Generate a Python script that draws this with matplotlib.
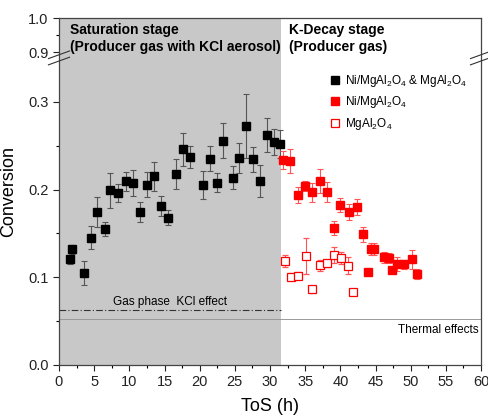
import numpy as np
import matplotlib
matplotlib.use('Agg')
import matplotlib.pyplot as plt
from matplotlib.lines import Line2D

plt.rcParams['font.family'] = ['Liberation Sans', 'DejaVu Sans']
plt.rcParams['mathtext.default'] = 'regular'

##################################################
# Data
##################################################
# Ni/MgAl2O4 & MgAl2O4 (saturation stage)
tos_both = [1.56, 1.85, 3.55, 4.55, 5.4, 6.6, 7.3, 8.43, 9.47, 10.47, 11.47, 12.47,
            13.55, 14.5, 15.55, 16.6, 17.6, 18.6, 20.5, 21.47, 22.4, 23.3, 24.8,
            25.6, 26.6, 27.6, 28.6, 29.6, 30.57, 31.47]
conv_both = [0.1205, 0.132, 0.105, 0.145, 0.1745, 0.155, 0.199, 0.196, 0.2095, 0.2075,
             0.1745, 0.2056, 0.215, 0.1817, 0.168, 0.2174, 0.246, 0.2368, 0.2056,
             0.2353, 0.2079, 0.2558, 0.2136, 0.236, 0.2725, 0.2345, 0.21, 0.262,
             0.254, 0.2516]
err_both = [0.005, 0.005, 0.014, 0.013, 0.017, 0.0076, 0.0195, 0.01, 0.011, 0.015,
            0.0116, 0.0146, 0.0165, 0.0114, 0.0085, 0.017, 0.019, 0.0127, 0.016,
            0.0144, 0.011, 0.02, 0.0135, 0.017, 0.036, 0.014, 0.018, 0.0196,
            0.0146, 0.016]

# Ni/MgAl2O4 (K-decay stage)
tos_ni = [31.9, 32.9, 34.0, 35.0, 36.0, 37.06, 38.05, 40.0, 41.3, 42.3, 39.1, 43.2,
          44.3, 44.75, 44.0, 46.2, 46.9, 47.35, 48.1, 49.1, 50.15, 50.95]
conv_ni = [0.2338, 0.2326, 0.1938, 0.2045, 0.197, 0.21, 0.197, 0.1828, 0.1745, 0.18,
           0.1566, 0.149, 0.1323, 0.1326, 0.1057, 0.1228, 0.122, 0.1083, 0.1148,
           0.115, 0.1205, 0.104]
err_ni = [0.01, 0.014, 0.0095, 0.0057, 0.011, 0.0135, 0.0114, 0.008, 0.009, 0.009,
          0.008, 0.0085, 0.007, 0.007, 0.003, 0.006, 0.006, 0.003, 0.008, 0.005,
          0.0107, 0.006]

# MgAl2O4 (K-decay stage)
tos_mg = [32.1, 33.0, 34.0, 35.08, 36.0, 37.1, 38.06, 39.1, 40.05, 41.05, 41.75]
conv_mg = [0.1186, 0.1007, 0.1018, 0.1243, 0.0863, 0.1137, 0.116, 0.1254, 0.1216,
           0.1132, 0.0829]
err_mg = [0.0065, 0.004, 0.004, 0.02, 0.004, 0.006, 0.004, 0.0095, 0.0067, 0.0097,
          0.003]

stage_end = 31.6
kcl_level = 0.0627
thermal_level = 0.0525

##################################################
# Broken y axis (0-0.35 and 0.9-1.0)
##################################################
yb = [-1.0, 0.0, 0.35, 0.9, 1.0, 2.0]
pb = [-877.0, 0.0, 307.0, 313.0, 347.0, 687.0]

def fwd(y):
    return np.interp(y, yb, pb)

def inv(p):
    return np.interp(p, pb, yb)

fig = plt.figure(figsize=(4.89, 4.16), dpi=100)
ax = fig.add_axes([59/489, 51/416, 422/489, 347/416])
ax.set_yscale('function', functions=(fwd, inv))
ax.set_xlim(0, 60)
ax.set_ylim(0, 1.0)

ax.axvspan(0, stage_end, color='#c8c8c8', lw=0, zorder=0)
ax.plot([0, stage_end], [kcl_level, kcl_level], color='#333333', lw=0.8,
        ls=(0, (6, 2, 1, 2)), zorder=1)
ax.axhline(thermal_level, color='#999999', lw=0.7, zorder=1)

ax.errorbar(tos_both, conv_both, yerr=err_both, fmt='s', color='black', ms=5.5,
            ecolor='#555555', elinewidth=0.8, capsize=2.5, capthick=0.8, zorder=3)
ax.errorbar(tos_ni, conv_ni, yerr=err_ni, fmt='s', color='red', ms=5.5,
            ecolor='#ff5555', elinewidth=0.8, capsize=2.5, capthick=0.8, zorder=3)
ax.errorbar(tos_mg, conv_mg, yerr=err_mg, fmt='s', mfc='white', mec='red', mew=0.9,
            ms=5.5, ecolor='#ff5555', elinewidth=0.8, capsize=2.5, capthick=0.8,
            zorder=3)

ax.set_xticks(np.arange(0, 61, 5))
ax.set_xticks(np.arange(0, 61, 2.5), minor=True)
ax.set_yticks([0.0, 0.1, 0.2, 0.3, 0.9, 1.0])
ax.set_yticklabels(['0.0', '0.1', '0.2', '0.3', '0.9', '1.0'])
ax.set_yticks([0.05, 0.15, 0.25, 0.95], minor=True)
ax.tick_params(axis='both', which='major', direction='out', length=4, width=0.8,
               labelsize=10.5, colors='#222222')
ax.tick_params(axis='both', which='minor', direction='out', length=2.5, width=0.8)
for s in ax.spines.values():
    s.set_color('#444444')
    s.set_linewidth(0.9)

# break marks on both y spines
yc = 0.885
for xb in [0, 1]:
    for dy in [-0.009, 0.009]:
        ax.plot([xb - 0.025, xb + 0.025], [yc + dy - 0.011, yc + dy + 0.011],
                transform=ax.transAxes, color='#333333', lw=0.8, clip_on=False,
                zorder=5)

ax.set_xlabel('ToS (h)', fontsize=13, labelpad=6)
ax.set_ylabel('Conversion', fontsize=13, labelpad=8)

ax.text(0.027, 0.985, 'Saturation stage\n(Producer gas with KCl aerosol)',
        transform=ax.transAxes, ha='left', va='top', fontsize=10,
        fontweight='bold', linespacing=1.25)
ax.text(0.545, 0.985, 'K-Decay stage\n(Producer gas)', transform=ax.transAxes,
        ha='left', va='top', fontsize=10, fontweight='bold', linespacing=1.25)
ax.text(stage_end / 2, kcl_level + 0.002, 'Gas phase  KCl effect', ha='center',
        va='bottom', fontsize=8.5)
ax.text(59.6, thermal_level - 0.006, 'Thermal effects', ha='right', va='top',
        fontsize=8.5)

handles = [
    Line2D([], [], ls='none', marker='s', color='black', ms=5.5),
    Line2D([], [], ls='none', marker='s', color='red', ms=5.5),
    Line2D([], [], ls='none', marker='s', mfc='white', mec='red', mew=0.9, ms=5.5),
]
labels = ['Ni/MgAl$_2$O$_4$ & MgAl$_2$O$_4$', 'Ni/MgAl$_2$O$_4$', 'MgAl$_2$O$_4$']
ax.legend(handles, labels, loc='upper left', bbox_to_anchor=(0.625, 0.855),
          frameon=False, fontsize=8.5, handletextpad=0.3, labelspacing=0.45,
          borderaxespad=0, handlelength=1.2)

fig.savefig('out.png', dpi=100)
